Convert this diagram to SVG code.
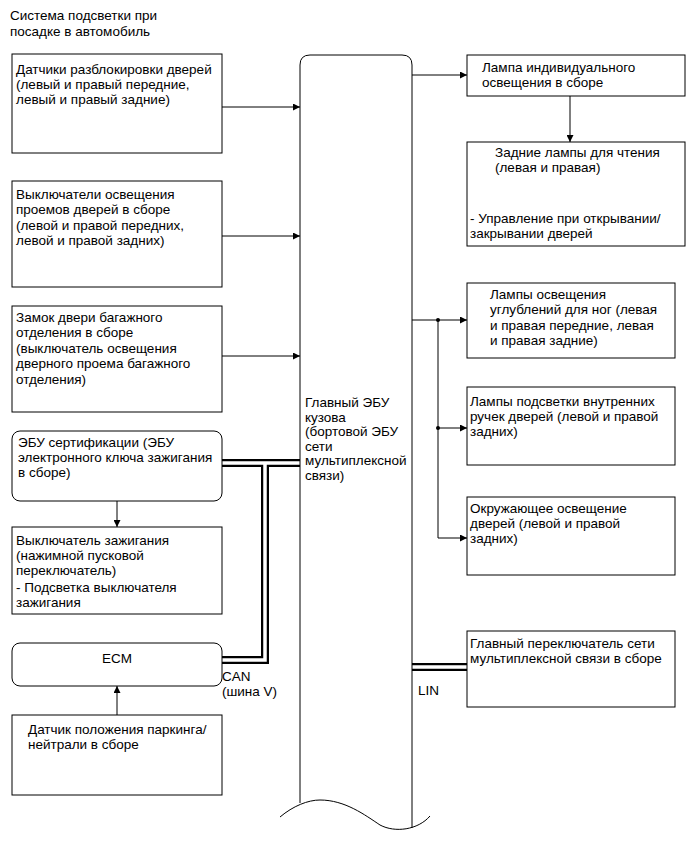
<svg xmlns="http://www.w3.org/2000/svg" width="689" height="853" viewBox="0 0 689 853">
<style>
text{font-family:"Liberation Sans",Arial,sans-serif;font-size:13.5px;fill:#000}
.box{fill:#fff;stroke:#000;stroke-width:1}
.ln{fill:none;stroke:#000;stroke-width:1}
.busb{fill:none;stroke:#000;stroke-width:8}
.busw{fill:none;stroke:#fff;stroke-width:3.5}
</style>
<defs>
<marker id="ah" viewBox="0 0 10 10" refX="10" refY="5" markerWidth="9" markerHeight="7" markerUnits="userSpaceOnUse" orient="auto">
<path d="M0,0 L10,5 L0,10 z" fill="#000"/>
</marker>
</defs>
<rect width="689" height="853" fill="#fff"/>
<g id="title">
<text x="10" y="20">Система подсветки при</text>
<text x="10" y="36">посадке в автомобиль</text>
</g>
<g id="connectors">
<path class="busb" d="M222,463 H300 M265,463 V660 H222 M412,667 H467"/>
<path class="busw" d="M222,463 H300 M265,463 V660 H222 M412,667 H467"/>
<line class="ln" x1="222" y1="107" x2="300" y2="107" marker-end="url(#ah)"/>
<line class="ln" x1="222" y1="236" x2="300" y2="236" marker-end="url(#ah)"/>
<line class="ln" x1="222" y1="356" x2="300" y2="356" marker-end="url(#ah)"/>
<line class="ln" x1="117" y1="501" x2="117" y2="527" marker-end="url(#ah)"/>
<line class="ln" x1="117" y1="715" x2="117" y2="686" marker-end="url(#ah)"/>
<line class="ln" x1="412" y1="75" x2="467" y2="75" marker-end="url(#ah)"/>
<line class="ln" x1="570" y1="96" x2="570" y2="142" marker-end="url(#ah)"/>
<line class="ln" x1="412" y1="320" x2="467" y2="320" marker-end="url(#ah)"/>
<line class="ln" x1="438" y1="428" x2="467" y2="428" marker-end="url(#ah)"/>
<path class="ln" d="M438,320 V538 H467" marker-end="url(#ah)"/>
<circle cx="438" cy="320" r="2" fill="#000"/>
<circle cx="438" cy="428" r="2" fill="#000"/>
<text x="222" y="681">CAN</text>
<text x="222" y="696">(шина V)</text>
<text x="418" y="695">LIN</text>
</g>
<g id="n-ecu-main">
<path fill="#fff" stroke="none" d="M300,803 V65 Q300,55 310,55 H402 Q412,55 412,65 V828 C400,832 390,830 380,825 C365,815 345,800 320,800 Q310,800 300,803 z"/>
<path class="ln" d="M300,803 V65 Q300,55 310,55 H402 Q412,55 412,65 V828"/>
<path class="ln" d="M280,817 C293,806 308,800 320,800 C345,800 365,815 380,825 C395,833 418,830 430,816"/>
<text x="305" y="407">Главный ЭБУ</text>
<text x="305" y="422">кузова</text>
<text x="305" y="436">(бортовой ЭБУ</text>
<text x="305" y="451">сети</text>
<text x="305" y="465">мультиплексной</text>
<text x="305" y="480">связи)</text>
</g>
<g id="n-door-unlock">
<rect class="box" x="12" y="54" width="210" height="99"/>
<text x="16" y="74">Датчики разблокировки дверей</text>
<text x="16" y="89">(левый и правый передние,</text>
<text x="16" y="104">левый и правый задние)</text>
</g>
<g id="n-courtesy-sw">
<rect class="box" x="12" y="181" width="210" height="106"/>
<text x="16" y="199">Выключатели освещения</text>
<text x="16" y="214">проемов дверей в сборе</text>
<text x="16" y="230">(левой и правой передних,</text>
<text x="16" y="245">левой и правой задних)</text>
</g>
<g id="n-trunk-lock">
<rect class="box" x="12" y="306" width="210" height="106"/>
<text x="16" y="322">Замок двери багажного</text>
<text x="16" y="337">отделения в сборе</text>
<text x="16" y="353">(выключатель освещения</text>
<text x="16" y="368">дверного проема багажного</text>
<text x="16" y="384">отделения)</text>
</g>
<g id="n-cert-ecu">
<rect class="box" x="12" y="431" width="210" height="70" rx="8"/>
<text x="18" y="447">ЭБУ сертификации (ЭБУ</text>
<text x="18" y="462">электронного ключа зажигания</text>
<text x="18" y="477">в сборе)</text>
</g>
<g id="n-ign-sw">
<rect class="box" x="12" y="527" width="210" height="87"/>
<text x="16" y="545">Выключатель зажигания</text>
<text x="16" y="560">(нажимной пусковой</text>
<text x="16" y="575">переключатель)</text>
<text x="16" y="592">- Подсветка выключателя</text>
<text x="16" y="607">зажигания</text>
</g>
<g id="n-ecm">
<rect class="box" x="12" y="643" width="210" height="43" rx="8"/>
<text x="117" y="663" text-anchor="middle">ECM</text>
</g>
<g id="n-pnp">
<rect class="box" x="12" y="715" width="210" height="80"/>
<text x="28" y="734">Датчик положения паркинга/</text>
<text x="28" y="749">нейтрали в сборе</text>
</g>
<g id="n-room-lamp">
<rect class="box" x="467" y="55" width="218" height="41"/>
<text x="482" y="72">Лампа индивидуального</text>
<text x="482" y="87">освещения в сборе</text>
</g>
<g id="n-rear-lamps">
<rect class="box" x="467" y="142" width="218" height="104"/>
<text x="495" y="157">Задние лампы для чтения</text>
<text x="495" y="172">(левая и правая)</text>
<text x="470" y="223">- Управление при открывании/</text>
<text x="470" y="238">закрывании дверей</text>
</g>
<g id="n-foot-lamps">
<rect class="box" x="467" y="283" width="208" height="75"/>
<text x="490" y="299">Лампы освещения</text>
<text x="490" y="314">углублений для ног (левая</text>
<text x="490" y="330">и правая передние, левая</text>
<text x="490" y="345">и правая задние)</text>
</g>
<g id="n-handle-lamps">
<rect class="box" x="467" y="387" width="208" height="78"/>
<text x="470" y="406">Лампы подсветки внутренних</text>
<text x="470" y="421">ручек дверей (левой и правой</text>
<text x="470" y="436">задних)</text>
</g>
<g id="n-footwell-lamps">
<rect class="box" x="467" y="497" width="208" height="78"/>
<text x="470" y="513">Окружающее освещение</text>
<text x="470" y="528">дверей (левой и правой</text>
<text x="470" y="543">задних)</text>
</g>
<g id="n-master-sw">
<rect class="box" x="467" y="631" width="208" height="76"/>
<text x="470" y="648">Главный переключатель сети</text>
<text x="470" y="663">мультиплексной связи в сборе</text>
</g>
</svg>
